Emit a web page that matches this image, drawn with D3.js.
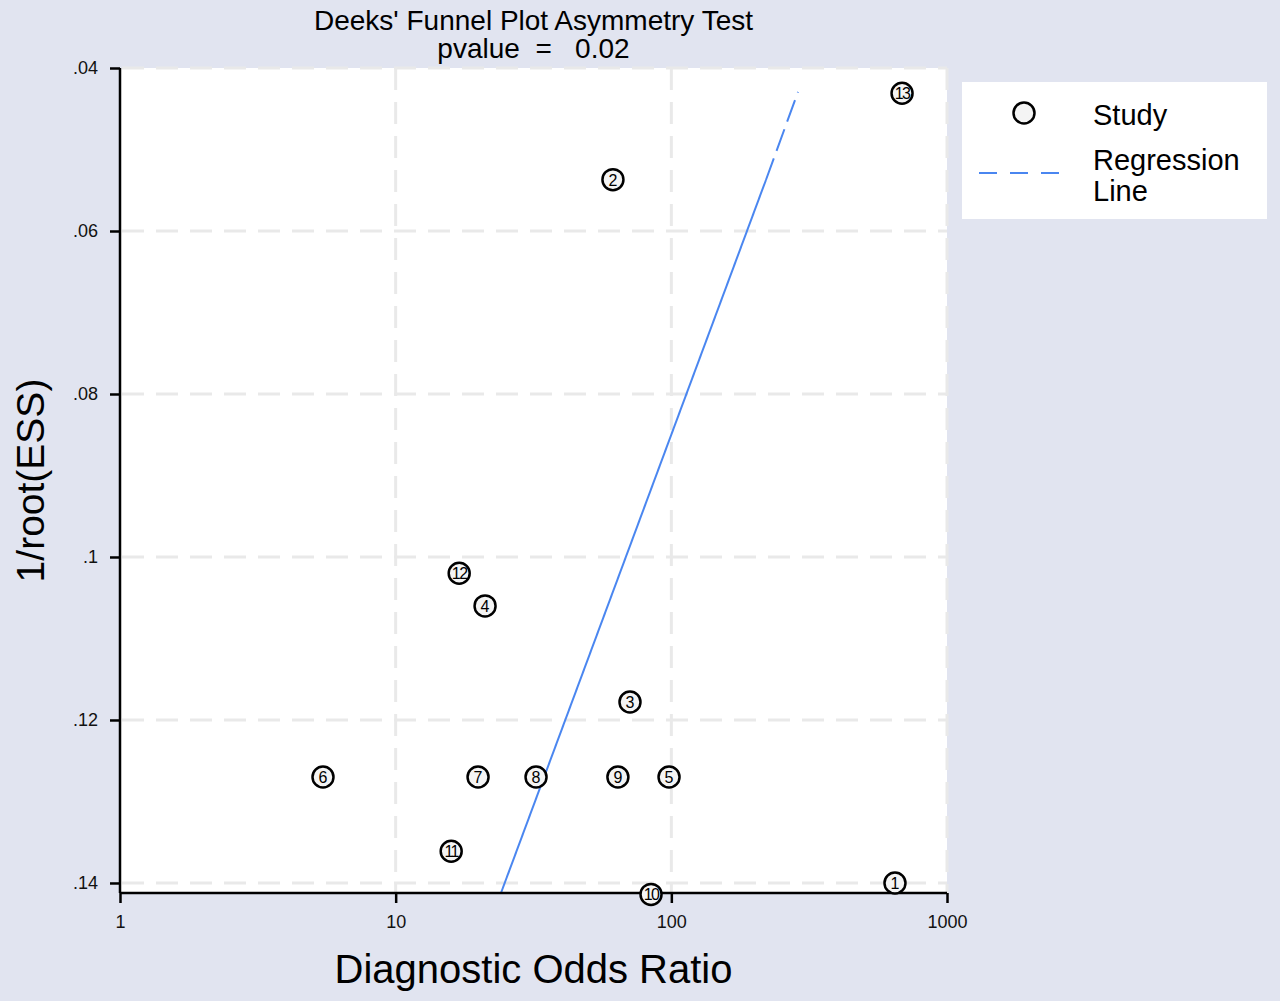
<!DOCTYPE html>
<html>
<head>
<meta charset="utf-8">
<script src="https://cdn.jsdelivr.net/npm/d3@7"></script>
<style>
  html, body { margin: 0; padding: 0; background: #e1e4f0; }
  svg { display: block; font-family: "Liberation Sans", Arial, Helvetica, sans-serif; }
</style>
</head>
<body>
<svg id="chart" width="1280" height="1001"></svg>
<script>
// ---- data ----
const studyIds = ["1","2","3","4","5","6","7","8","9","10","11","12","13"];
const dor      = [647.6, 61.4, 70.8, 21.1, 98.1, 5.45, 19.9, 32.3, 64.0, 84.4, 15.9, 17.0, 687];
const invRootEss = [0.1400, 0.0537, 0.1178, 0.1060, 0.1270, 0.1270, 0.1270, 0.1270, 0.1270, 0.1414, 0.1361, 0.1020, 0.0431];
// regression line: bottom end, start of dashed section, top end
const regDor = [24.1, 220.4, 288];
const regEss = [0.14123, 0.05374, 0.04294];
const xTicks = [1, 10, 100, 1000];
const yTicks = [0.04, 0.06, 0.08, 0.10, 0.12, 0.14];
const yTickLabels = [".04", ".06", ".08", ".1", ".12", ".14"];
const titleLines = ["Deeks' Funnel Plot Asymmetry Test", "pvalue  =   0.02"];
const legendItems = ["Study", "Regression", "Line"];

// ---- layout ----
const svg = d3.select("#chart");
const L = 120, R = 947, T = 68, B = 893;
const x = d3.scaleLog().domain([1, 1000]).range([L, R]);
const y = d3.scaleLinear().domain([0.04, 0.14123]).range([T, B]);

svg.append("rect").attr("width", 1280).attr("height", 1001).attr("fill", "#e1e4f0");
svg.append("rect").attr("x", L).attr("y", T).attr("width", R - L).attr("height", B - T).attr("fill", "#ffffff");

// grid
const grid = svg.append("g").attr("stroke", "#e9e9e9").attr("stroke-width", 3).attr("stroke-dasharray", "22,12").attr("fill", "none");
grid.selectAll("line.h").data(yTicks).join("line")
  .attr("x1", L + 2).attr("x2", R).attr("y1", d => y(d)).attr("y2", d => y(d));
grid.selectAll("line.v").data(xTicks.slice(1)).join("line")
  .attr("y1", T).attr("y2", B).attr("x1", d => x(d)).attr("x2", d => x(d));

// regression line
const regPts = regDor.map((d, i) => [x(d), y(regEss[i])]);
svg.append("line")
  .attr("x1", regPts[0][0]).attr("y1", regPts[0][1]).attr("x2", regPts[1][0]).attr("y2", regPts[1][1])
  .attr("stroke", "#4a86f0").attr("stroke-width", 2);
svg.append("line")
  .attr("x1", regPts[1][0]).attr("y1", regPts[1][1]).attr("x2", regPts[2][0]).attr("y2", regPts[2][1])
  .attr("stroke", "#4a86f0").attr("stroke-width", 2).attr("stroke-dasharray", "23,8");

// axes
const xAxis = d3.axisBottom(x).tickValues(xTicks).tickFormat(d3.format("d")).tickSize(10).tickPadding(12);
const gx = svg.append("g").attr("transform", `translate(0,${B})`).call(xAxis);
gx.select(".domain").attr("stroke", "#000").attr("stroke-width", 2.5).attr("d", `M${L},0H${R}`);
gx.selectAll(".tick line").attr("stroke", "#000").attr("stroke-width", 2.5);
gx.selectAll(".tick text").attr("font-size", 18).attr("fill", "#111").attr("font-family", "Liberation Sans, Arial, sans-serif");

const yAxis = d3.axisLeft(y).tickValues(yTicks).tickFormat((d, i) => yTickLabels[i]).tickSize(10).tickPadding(12);
const gy = svg.append("g").attr("transform", `translate(${L},0)`).call(yAxis);
gy.select(".domain").attr("stroke", "#000").attr("stroke-width", 2.5).attr("d", `M0,${T}V${B}`);
gy.selectAll(".tick line").attr("stroke", "#000").attr("stroke-width", 2.5);
gy.selectAll(".tick text").attr("font-size", 18).attr("fill", "#111").attr("font-family", "Liberation Sans, Arial, sans-serif");

// points
const pts = svg.append("g");
const pg = pts.selectAll("g").data(studyIds).join("g")
  .attr("transform", (d, i) => `translate(${x(dor[i])},${y(invRootEss[i])})`);
pg.append("circle").attr("r", 10.5).attr("fill", "#f4f4f4").attr("stroke", "#000").attr("stroke-width", 2.5);
pg.append("text").text(d => d).attr("text-anchor", "middle").attr("dy", "0.37em")
  .attr("font-size", 16).attr("fill", "#000").attr("letter-spacing", d => d.length > 1 ? "-1.5" : "0");

// titles
svg.selectAll("text.title").data(titleLines).join("text").attr("class", "title")
  .attr("x", (L + R) / 2).attr("y", (d, i) => 30 + i * 28).attr("text-anchor", "middle")
  .attr("font-size", 28).attr("fill", "#000").attr("xml:space", "preserve").style("white-space", "pre").text(d => d);

svg.append("text").attr("x", (L + R) / 2).attr("y", 983).attr("text-anchor", "middle")
  .attr("font-size", 40).attr("fill", "#000").text("Diagnostic Odds Ratio");
svg.append("text").attr("transform", `translate(44,${(T + B) / 2}) rotate(-90)`).attr("text-anchor", "middle")
  .attr("font-size", 39).attr("fill", "#000").text("1/root(ESS)");

// legend
const lg = svg.append("g");
lg.append("rect").attr("x", 962).attr("y", 82).attr("width", 305).attr("height", 137).attr("fill", "#fff");
lg.append("circle").attr("cx", 1024).attr("cy", 113).attr("r", 10.5).attr("fill", "#f4f4f4").attr("stroke", "#000").attr("stroke-width", 2.5);
lg.append("line").attr("x1", 979).attr("x2", 1072).attr("y1", 173).attr("y2", 173)
  .attr("stroke", "#4a86f0").attr("stroke-width", 2).attr("stroke-dasharray", "18,13");
lg.selectAll("text").data(legendItems).join("text")
  .attr("x", 1093).attr("y", (d, i) => [125, 170, 201][i])
  .attr("font-size", 29).attr("fill", "#000").text(d => d);
</script>
</body>
</html>
